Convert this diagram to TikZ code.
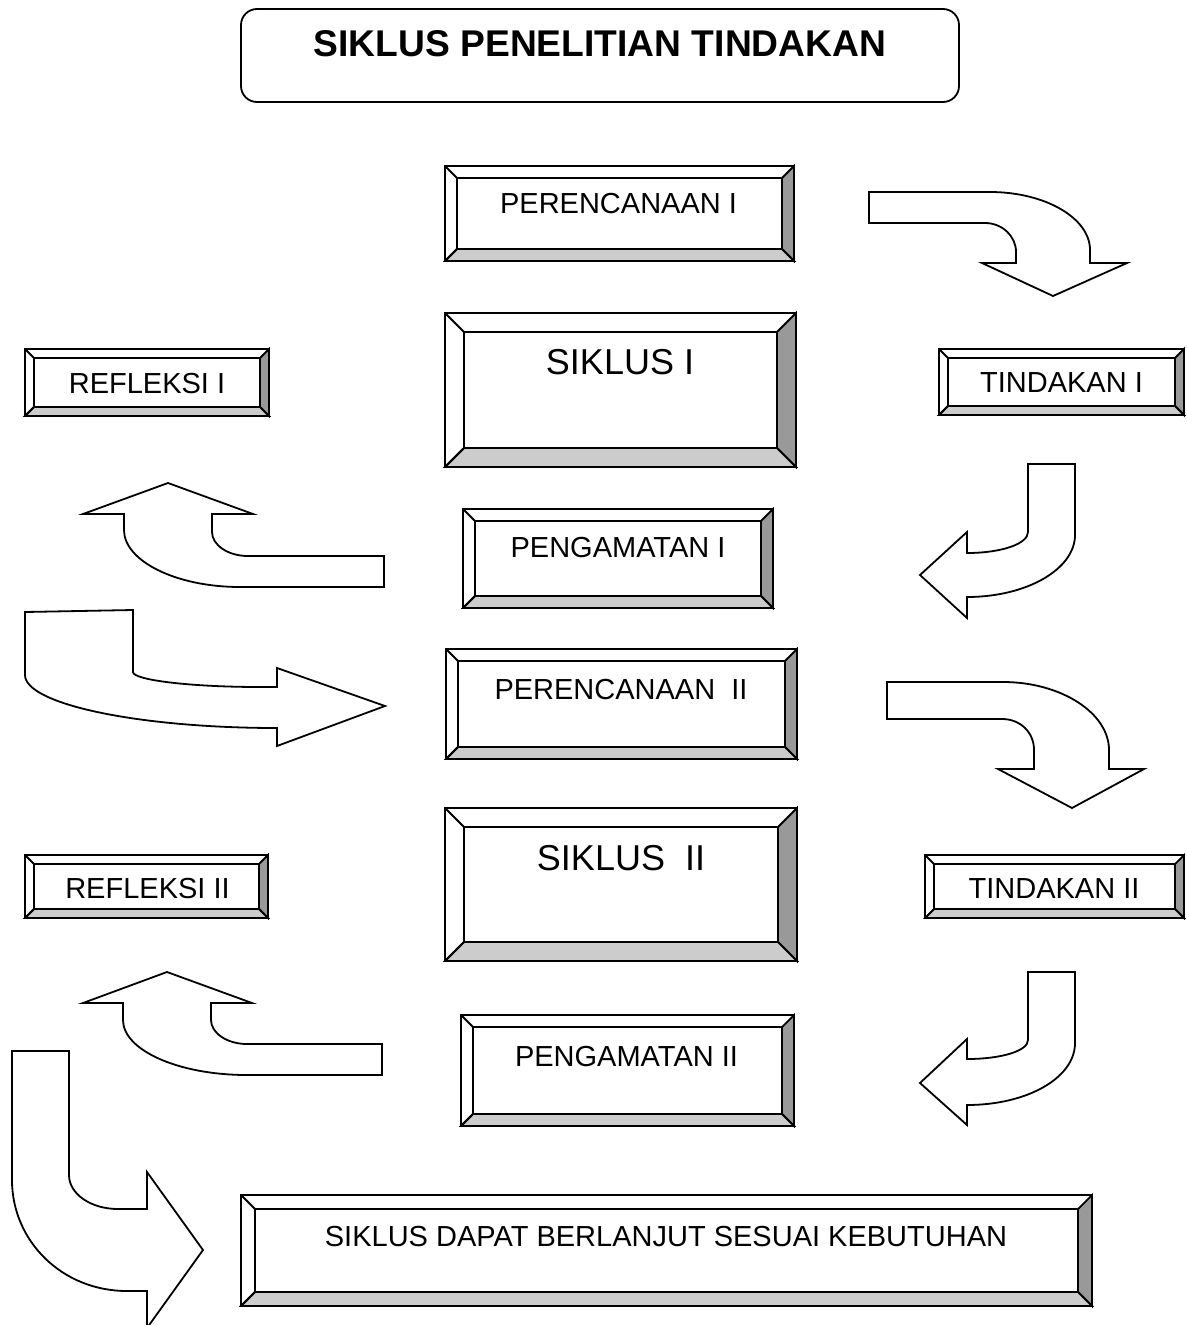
\documentclass[tikz,border=0pt]{standalone}
\usepackage{fontspec}
\setmainfont{Liberation Sans}
\definecolor{bevdark}{RGB}{153,153,153}
\definecolor{bevlight}{RGB}{204,204,204}
\newcommand\bevbox[5]{%
  \draw[fill=white] (#1,#2) rectangle (#3,#4);
  \draw[fill=bevdark] (#3,#2) -- (#3,#4) -- ({#3-#5},{#4-#5}) -- ({#3-#5},{#2+#5}) -- cycle;
  \draw[fill=bevlight] (#1,#4) -- (#3,#4) -- ({#3-#5},{#4-#5}) -- ({#1+#5},{#4-#5}) -- cycle;
  \draw (#1,#2) -- ({#1+#5},{#2+#5});
  \draw (#1,#4) -- ({#1+#5},{#4-#5});
  \draw ({#1+#5},{#2+#5}) rectangle ({#3-#5},{#4-#5});
}
\begin{document}
\begin{tikzpicture}[x=1pt,y=-1pt,line width=1.8pt,
  lbl/.style={anchor=base,inner sep=0pt,font=\fontsize{29}{34}\selectfont},
  biglbl/.style={anchor=base,inner sep=0pt,font=\fontsize{36}{42}\selectfont},
  blockarrow/.style={draw,fill=white,line width=1.8pt}]
\useasboundingbox (0,0) rectangle (1186,1325);

% title
\draw[rounded corners=16pt] (241,9) rectangle (959,102);
\node[anchor=base,inner sep=0pt,font=\fontsize{37.2}{44}\selectfont\bfseries] (title) at (600,56) {SIKLUS PENELITIAN TINDAKAN};

% boxes
\bevbox{445}{166}{794}{261}{12}
\node[lbl] (p1) at (618.5,213) {PERENCANAAN I};
\bevbox{445}{313}{796}{467}{19}
\node[biglbl] (s1) at (620,374) {SIKLUS I};
\bevbox{25}{349}{269}{416}{9}
\node[lbl] (r1) at (147,393) {REFLEKSI I};
\bevbox{939}{349}{1184}{415}{9}
\node[lbl] (t1) at (1061.5,392) {TINDAKAN I};
\bevbox{463}{509}{773}{608}{12}
\node[lbl] (g1) at (618,557) {PENGAMATAN I};
\bevbox{446}{649}{797}{759}{12}
\node[lbl] (p2) at (621,699) {PERENCANAAN\ \ II};
\bevbox{445}{808}{797}{961}{19}
\node[biglbl] (s2) at (621,870) {SIKLUS\ \ II};
\bevbox{25}{855}{268}{918}{9}
\node[lbl] (r2) at (147.5,898) {REFLEKSI II};
\bevbox{925}{855}{1184}{918}{9}
\node[lbl] (t2) at (1054,898) {TINDAKAN II};
\bevbox{461}{1015}{794}{1126}{12}
\node[lbl] (g2) at (626.5,1066) {PENGAMATAN II};
\bevbox{241}{1195}{1092}{1306}{14}
\node[lbl] (sd) at (666,1246) {SIKLUS DAPAT BERLANJUT SESUAI KEBUTUHAN};

% arrows
\draw[blockarrow] (869,192) -- (990,192) .. controls (1045,192) and (1090,218) .. (1090,250) -- (1090,263) -- (1127,263) -- (1053,296) -- (982,263) -- (1016,263) -- (1016,252) .. controls (1016,236) and (1002,223) .. (985,223) -- (869,223) -- cycle;
\draw[blockarrow] (887,682) -- (1003,682) .. controls (1061,682) and (1109,713) .. (1109,750) -- (1109,769) -- (1144,769) -- (1072,808) -- (998,769) -- (1034,769) -- (1034,750) .. controls (1034,732) and (1020,719) .. (1002,719) -- (887,719) -- cycle;
\draw[blockarrow] (1028,464) -- (1075,464) -- (1075,535) .. controls (1075,569) and (1027,597) .. (967,597) -- (967,618) -- (920,575) -- (967,532) -- (967,553) .. controls (1001,553) and (1028,544) .. (1028,532) -- cycle;
\draw[blockarrow] (1028,972) -- (1075,972) -- (1075,1043) .. controls (1075,1078) and (1027,1105) .. (967,1105) -- (967,1125) -- (920,1083) -- (967,1039) -- (967,1059) .. controls (1001,1059) and (1028,1051) .. (1028,1040) -- cycle;
\draw[blockarrow] (384,556) -- (384,587) -- (240,587) .. controls (176,587) and (124,561) .. (124,530) -- (124,514) -- (83,514) -- (168,483) -- (253,514) -- (212,514) -- (212,532) .. controls (212,545) and (228,556) .. (248,556) -- cycle;
\draw[blockarrow] (382,1044) -- (382,1075) -- (247,1075) .. controls (178,1075) and (123,1050) .. (123,1020) -- (123,1003) -- (83,1003) -- (167,972) -- (252,1003) -- (211,1003) -- (211,1020) .. controls (211,1033) and (227,1044) .. (247,1044) -- cycle;
\draw[blockarrow] (25,612) -- (133,610) -- (133,672) .. controls (133,680) and (190,687) .. (260,687) -- (277,687) -- (277,668) -- (385,706) -- (277,746) -- (277,728) .. controls (138,728) and (25,704) .. (25,675) -- cycle;
\draw[blockarrow] (12,1051) -- (69,1051) -- (69,1175) .. controls (69,1194) and (91,1209) .. (118,1209) -- (147,1209) -- (147,1172) -- (203,1250) -- (147,1328) -- (147,1291) -- (127,1291) .. controls (62,1291) and (12,1241) .. (12,1180) -- cycle;
\end{tikzpicture}
\end{document}
